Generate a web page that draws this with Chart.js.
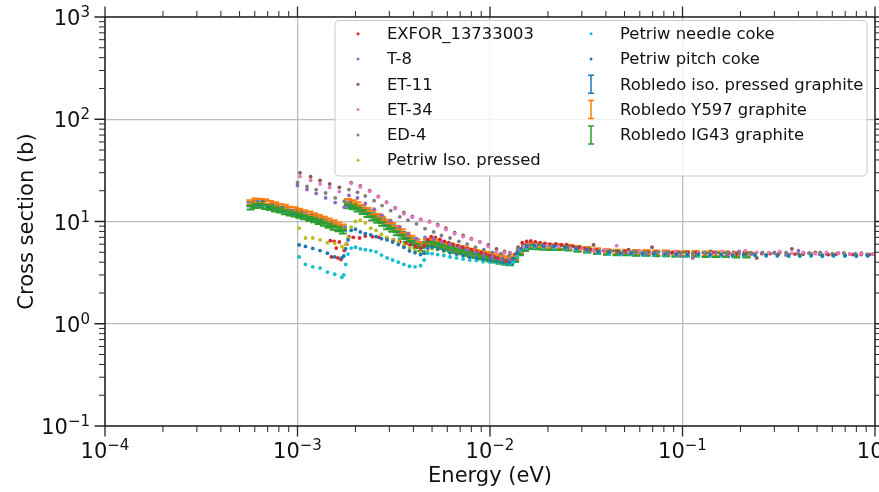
<!DOCTYPE html>
<html>
<head>
<meta charset="utf-8">
<title>Graphite total cross section</title>
<script src="https://cdn.jsdelivr.net/npm/chart.js@4.4.1/dist/chart.umd.min.js"></script>
<style>
  html, body { margin: 0; padding: 0; background: #fff; }
  canvas { display: block; }
</style>
</head>
<body>
<canvas id="xsChart" width="879" height="492"></canvas>
<script>
// ---- energy grids (eV) ----
// T-8 and ED-4
const gridA = [
  1.0e-3, 1.12e-3, 1.25e-3, 1.4e-3, 1.57e-3, 1.75e-3,
  1.85e-3, 2.05e-3, 2.25e-3, 2.5e-3, 2.75e-3, 3.05e-3, 3.4e-3, 3.75e-3, 4.15e-3, 4.6e-3,
  5.1e-3, 5.6e-3, 6.2e-3, 6.9e-3, 7.6e-3, 8.4e-3, 9.3e-3, 1.03e-2, 1.14e-2, 1.26e-2,
  1.4e-2, 1.6e-2, 1.85e-2, 2.1e-2, 2.45e-2, 2.8e-2, 3.2e-2, 3.7e-2, 4.25e-2, 4.9e-2,
  5.6e-2, 6.5e-2, 7.4e-2, 8.5e-2, 9.8e-2, 0.113, 0.13, 0.149, 0.171, 0.197,
  0.227, 0.26, 0.3, 0.345, 0.4, 0.455, 0.52, 0.6, 0.69, 0.79, 0.91
];
// ET-11 and ET-34
const gridB = [
  1.03e-3, 1.17e-3, 1.31e-3, 1.47e-3, 1.65e-3,
  1.9e-3, 2.12e-3, 2.37e-3, 2.63e-3, 2.9e-3, 3.22e-3, 3.57e-3, 3.95e-3, 4.37e-3, 4.85e-3,
  5.35e-3, 5.9e-3, 6.55e-3, 7.25e-3, 8.0e-3, 8.85e-3, 9.8e-3, 1.08e-2, 1.19e-2, 1.27e-2,
  1.5e-2, 1.72e-2, 1.98e-2, 2.27e-2, 2.62e-2, 3.0e-2, 3.45e-2, 3.95e-2, 4.55e-2, 5.25e-2,
  6.0e-2, 6.95e-2, 8.0e-2, 9.2e-2, 0.105, 0.121, 0.14, 0.16, 0.184, 0.212,
  0.243, 0.28, 0.32, 0.37, 0.425, 0.49, 0.56, 0.645, 0.74, 0.85, 0.975
];
// Petriw samples
const gridPetriw = [
  1.02e-3, 1.1e-3, 1.2e-3, 1.31e-3, 1.43e-3, 1.56e-3, 1.7e-3,
  1.74e-3, 1.78e-3, 1.83e-3, 1.9e-3, 2.0e-3, 2.12e-3, 2.25e-3, 2.4e-3, 2.56e-3, 2.73e-3,
  2.92e-3, 3.12e-3, 3.34e-3, 3.57e-3, 3.82e-3, 4.08e-3, 4.36e-3, 4.55e-3, 4.75e-3, 5.0e-3,
  5.35e-3, 5.75e-3, 6.2e-3, 6.7e-3, 7.25e-3, 7.85e-3, 8.5e-3, 9.2e-3, 1.0e-2, 1.08e-2,
  1.17e-2, 1.26e-2, 1.32e-2, 1.38e-2,
  1.45e-2, 1.55e-2, 1.7e-2, 1.9e-2, 2.15e-2, 2.45e-2, 2.8e-2, 3.2e-2, 3.65e-2, 4.15e-2,
  4.75e-2, 5.4e-2, 6.2e-2, 7.1e-2, 8.1e-2, 9.3e-2, 0.106, 0.121, 0.139, 0.159,
  0.182, 0.208, 0.238, 0.272, 0.311, 0.356, 0.407, 0.466, 0.533, 0.61, 0.698, 0.8, 0.915
];
// Robledo transmission runs
const gridRobledo = [
  5.7e-4, 6.05e-4, 6.4e-4, 6.8e-4, 7.2e-4, 7.65e-4, 8.1e-4, 8.6e-4, 9.1e-4, 9.65e-4,
  1.02e-3, 1.08e-3, 1.15e-3, 1.22e-3, 1.29e-3, 1.37e-3, 1.45e-3, 1.54e-3, 1.63e-3, 1.72e-3,
  1.83e-3, 1.94e-3, 2.05e-3, 2.18e-3, 2.31e-3, 2.45e-3, 2.6e-3, 2.75e-3, 2.92e-3, 3.1e-3,
  3.28e-3, 3.48e-3, 3.69e-3, 3.91e-3, 4.15e-3, 4.4e-3,
  4.7e-3, 4.98e-3, 5.28e-3, 5.6e-3, 5.94e-3, 6.3e-3, 6.68e-3, 7.08e-3, 7.5e-3, 7.95e-3,
  8.43e-3, 8.94e-3, 9.48e-3, 1.005e-2, 1.065e-2, 1.13e-2, 1.2e-2, 1.27e-2,
  1.35e-2, 1.43e-2, 1.52e-2, 1.62e-2, 1.75e-2, 1.9e-2, 2.08e-2, 2.3e-2, 2.55e-2, 2.85e-2,
  3.2e-2, 3.6e-2, 4.05e-2, 4.55e-2, 5.1e-2, 5.75e-2, 6.5e-2, 7.3e-2, 8.2e-2, 9.2e-2,
  0.104, 0.117, 0.132, 0.149, 0.168, 0.19, 0.215
];
const exforE = [
  1.48e-3, 1.5e-3, 1.55e-3, 1.59e-3, 1.62e-3, 1.65e-3, 1.68e-3, 1.75e-3,
  1.8e-3, 1.85e-3, 1.95e-3, 2.1e-3, 2.25e-3, 2.45e-3, 2.65e-3, 2.9e-3, 3.15e-3, 3.4e-3,
  3.65e-3, 3.85e-3, 4.1e-3, 4.35e-3, 4.55e-3, 4.75e-3, 4.95e-3, 5.2e-3, 5.5e-3, 5.8e-3,
  6.1e-3, 6.4e-3, 6.8e-3, 7.2e-3, 7.6e-3, 8.0e-3, 8.5e-3, 9.0e-3, 9.5e-3, 1.0e-2,
  1.05e-2, 1.1e-2, 1.15e-2, 1.2e-2, 1.25e-2, 1.3e-2, 1.35e-2, 1.4e-2, 1.47e-2, 1.55e-2,
  1.63e-2, 1.72e-2, 1.82e-2, 1.93e-2, 2.05e-2, 2.2e-2, 2.35e-2, 2.5e-2, 2.7e-2, 2.9e-2,
  3.1e-2, 3.35e-2, 3.6e-2, 3.9e-2, 4.2e-2, 4.6e-2, 5.0e-2, 5.5e-2, 6.0e-2, 6.6e-2,
  7.3e-2, 8.0e-2, 8.8e-2, 9.7e-2, 0.107, 0.118, 0.13, 0.143, 0.158, 0.174,
  0.192, 0.212, 0.234, 0.258, 0.285, 0.315, 0.348, 0.384, 0.424, 0.468,
  0.517, 0.571, 0.63, 0.696, 0.768, 0.848, 0.936
];

// ---- cross sections (b) ----
const exforXs = [
  6.5, 4.5, 6.4, 5.5, 4.4, 6.3, 4.25, 5.2,
  6.0, 7.1, 7.0, 6.9, 7.2, 7.1, 7.0, 6.9, 6.6, 6.3,
  6.1, 5.9, 5.7, 5.5, 5.8, 6.6, 7.1, 7.0, 6.7, 6.4,
  6.2, 6.0, 5.8, 5.6, 5.45, 5.3, 5.1, 4.95, 4.8, 4.65,
  4.5, 4.35, 4.2, 4.1, 4.0, 4.2, 4.8, 5.6, 6.2, 6.4,
  6.45, 6.3, 6.2, 6.1, 6.0, 6.05, 5.9, 5.95, 5.75, 5.6,
  5.4, 5.3, 5.25, 5.2, 5.15, 5.1, 5.1, 5.05, 5.1, 5.0,
  5.05, 5.0, 4.95, 5.0, 4.95, 4.95, 4.9, 4.95, 4.9, 4.9,
  4.85, 4.9, 4.85, 4.85, 4.85, 4.8, 4.85, 4.8, 4.8, 4.8,
  4.8, 4.75, 4.8, 4.75, 4.75, 4.75, 4.75
];
const t8Xs = [
  22.5, 20.5, 18.8, 17.0, 15.3, 13.8,
  18.0, 17.0, 15.0, 13.2, 11.5, 10.2, 8.8, 7.6, 6.8, 7.0,
  6.8, 6.3, 6.0, 5.6, 5.3, 5.0, 4.7, 4.5, 4.3, 4.2,
  5.3, 5.8, 5.9, 5.7, 5.6, 5.4, 5.2, 5.0, 5.1, 4.9,
  5.0, 4.8, 5.0, 4.9, 4.6, 4.4, 4.9, 5.0, 4.7, 5.1,
  4.8, 4.9, 5.0, 4.7, 5.2, 4.9, 4.8, 4.7, 4.9, 4.8, 4.75
];
const et11Xs = [
  29.9, 27.4, 25.3, 23.3, 21.6,
  24.0, 22.3, 20.0, 17.6, 15.5, 13.6, 12.2, 11.2, 10.5, 10.0,
  9.3, 8.6, 7.8, 7.3, 6.8, 6.3, 5.9, 5.4, 5.1, 4.95,
  5.9, 6.0, 5.9, 5.8, 5.6, 5.5, 5.9, 5.2, 5.1, 5.3,
  5.0, 5.6, 5.0, 4.9, 5.0, 4.95, 5.1, 4.9, 5.0, 5.1,
  4.4, 4.9, 5.0, 5.4, 4.9, 5.0, 4.85, 4.9, 4.8, 4.9, 4.8
];
const et34Xs = [
  27.5, 25.2, 23.3, 21.5, 19.6,
  23.6, 21.8, 19.8, 17.4, 15.3, 13.4, 11.9, 11.0, 10.4, 9.9,
  9.1, 8.35, 7.6, 7.1, 6.7, 6.3, 5.7, 5.1, 4.95, 4.9,
  5.7, 5.9, 5.85, 5.7, 5.5, 5.4, 5.2, 5.3, 5.8, 5.0,
  5.1, 4.9, 5.0, 5.1, 4.8, 5.0, 4.9, 5.1, 4.85, 5.2,
  5.0, 4.9, 5.1, 4.9, 5.0, 4.85, 5.0, 4.9, 4.8, 4.85, 4.8
];
const ed4Xs = [
  24.0, 22.0, 20.5, 19.0, 17.0, 15.8,
  20.5, 19.3, 17.8, 16.0, 14.3, 12.8, 11.1, 10.3, 9.5, 8.5,
  7.9, 7.3, 6.9, 6.4, 6.0, 5.6, 5.3, 5.0, 4.85, 4.7,
  5.5, 5.9, 5.95, 5.8, 5.7, 5.5, 5.3, 5.15, 5.2, 5.0,
  5.1, 5.0, 4.95, 5.05, 4.9, 4.85, 5.0, 4.9, 5.0, 4.85,
  4.95, 5.0, 4.9, 4.95, 4.85, 4.9, 5.0, 4.85, 4.9, 4.85, 4.8
];
const petriwIsoXs = [
  8.6, 6.9, 6.9, 6.6, 6.2, 6.1, 5.7,
  5.5, 6.0, 7.0, 8.8, 10.0, 10.3, 9.7, 8.6, 8.2, 7.5,
  7.0, 6.6, 6.3, 5.9, 5.5, 5.25, 5.0, 4.9, 5.2, 5.4,
  5.3, 5.15, 5.0, 4.85, 4.7, 4.55, 4.45, 4.3, 4.2, 4.1,
  4.0, 3.9, 4.1, 4.6,
  5.3, 5.6, 5.7, 5.65, 5.6, 5.55, 5.4, 5.2, 5.0, 4.95,
  4.9, 4.9, 4.85, 4.85, 4.8, 4.8, 4.75, 4.8, 4.75, 4.8,
  4.75, 4.75, 4.8, 4.75, 4.7, 4.75, 4.7, 4.75, 4.7, 4.7, 4.75, 4.7, 4.7
];
const petriwNeedleXs = [
  4.5, 3.8, 3.6, 3.5, 3.2, 3.05, 2.85,
  3.0, 3.8, 4.8, 5.5, 5.6, 5.4, 5.3, 5.2, 5.05, 4.7,
  4.4, 4.2, 4.0, 3.8, 3.65, 3.6, 3.7, 4.2, 4.9, 4.85,
  4.75, 4.65, 4.5, 4.4, 4.3, 4.2, 4.15, 4.05, 4.0, 3.95,
  3.85, 3.8, 4.0, 4.6,
  5.2, 5.5, 5.6, 5.55, 5.5, 5.45, 5.3, 5.1, 4.9, 4.8,
  4.75, 4.75, 4.7, 4.7, 4.65, 4.7, 4.6, 4.65, 4.6, 4.65,
  4.6, 4.6, 4.65, 4.6, 4.6, 4.55, 4.6, 4.6, 4.55, 4.6, 4.6, 4.55, 4.6
];
const petriwPitchXs = [
  5.9, 5.7, 5.45, 5.2, 4.9, 4.5, 4.4,
  4.6, 5.4, 6.6, 8.2, 8.4, 7.9, 7.6, 7.4, 7.1, 6.8,
  6.6, 6.3, 5.95, 5.6, 5.15, 4.95, 4.75, 4.9, 5.5, 5.6,
  5.4, 5.2, 4.95, 4.8, 4.65, 4.5, 4.4, 4.3, 4.2, 4.1,
  4.0, 3.95, 4.3, 4.9,
  5.4, 5.7, 5.8, 5.75, 5.7, 5.6, 5.45, 5.25, 5.05, 5.0,
  4.9, 4.9, 4.85, 4.85, 4.8, 4.8, 4.75, 4.8, 4.75, 4.75,
  4.7, 4.75, 4.7, 4.7, 4.7, 4.7, 4.65, 4.7, 4.65, 4.7, 4.65, 4.65, 4.65
];
const robledoIsoXs = [
  14.8, 15.1, 14.9, 15.2, 14.2, 13.9, 13.3, 13.1, 12.5, 12.4,
  11.9, 11.7, 11.1, 10.9, 10.3, 10.1, 9.5, 9.3, 8.7, 8.5,
  14.9, 14.4, 13.9, 13.1, 12.3, 11.5, 10.8, 10.1, 9.4, 8.8,
  8.2, 7.6, 7.05, 6.55, 6.1, 5.75,
  6.1, 6.2, 6.0, 5.8, 5.6, 5.45, 5.3, 5.15, 5.0, 4.85,
  4.75, 4.6, 4.5, 4.4, 4.3, 4.2, 4.1, 4.0,
  4.3, 5.0, 5.5, 5.75, 5.7, 5.65, 5.6, 5.6, 5.55, 5.4,
  5.25, 5.1, 5.0, 4.95, 4.95, 4.9, 4.9, 4.85, 4.85, 4.8,
  4.8, 4.8, 4.75, 4.75, 4.75, 4.7, 4.7
];
const robledoY597Xs = [
  15.4, 16.0, 15.8, 15.7, 15.1, 14.7, 14.1, 13.9, 13.3, 13.1,
  12.7, 12.3, 11.9, 11.5, 11.0, 10.6, 10.2, 9.8, 9.3, 8.9,
  15.8, 15.4, 14.7, 13.8, 12.9, 12.1, 11.3, 10.6, 9.9, 9.2,
  8.6, 8.0, 7.4, 6.9, 6.4, 6.0,
  6.4, 6.5, 6.3, 6.1, 5.9, 5.75, 5.6, 5.45, 5.3, 5.15,
  5.0, 4.9, 4.8, 4.7, 4.55, 4.45, 4.35, 4.25,
  4.5, 5.2, 5.7, 5.9, 5.85, 5.8, 5.75, 5.7, 5.65, 5.5,
  5.35, 5.2, 5.1, 5.05, 5.05, 5.0, 5.0, 4.95, 4.95, 4.9,
  4.9, 4.9, 4.85, 4.85, 4.85, 4.8, 4.8
];
const robledoIG43Xs = [
  13.7, 14.2, 14.3, 13.9, 13.6, 13.1, 12.8, 12.3, 12.0, 11.7,
  11.4, 11.0, 10.6, 10.3, 9.9, 9.5, 9.1, 8.7, 8.4, 8.0,
  14.1, 13.8, 13.1, 12.4, 11.6, 10.8, 10.2, 9.5, 8.8, 8.3,
  7.7, 7.1, 6.65, 6.2, 5.75, 5.4,
  6.0, 6.05, 5.85, 5.65, 5.45, 5.3, 5.15, 5.0, 4.85, 4.7,
  4.6, 4.45, 4.35, 4.25, 4.15, 4.05, 3.95, 3.9,
  4.2, 4.9, 5.4, 5.65, 5.6, 5.55, 5.5, 5.5, 5.45, 5.3,
  5.2, 5.05, 4.95, 4.9, 4.9, 4.85, 4.85, 4.8, 4.8, 4.75,
  4.75, 4.75, 4.7, 4.7, 4.7, 4.65, 4.65
];
// relative uncertainty of each Robledo run
const robledoIsoErr = 0.045;
const robledoY597Err = 0.05;
const robledoIG43Err = 0.045;

// ---- axes ----
const xTickValues = [1e-4, 1e-3, 1e-2, 1e-1, 1];
const xTickExp = ['\u22124', '\u22123', '\u22122', '\u22121', '0'];
const yTickValues = [1e-1, 1, 10, 100, 1000];
const yTickExp = ['\u22121', '0', '1', '2', '3'];

const pts = (xs, ys) => xs.map((x, i) => ({ x: x, y: ys[i] }));

const markerSeries = [
  { label: 'EXFOR_13733003', color: '#d62728', data: pts(exforE, exforXs) },
  { label: 'T-8', color: '#9467bd', data: pts(gridA, t8Xs) },
  { label: 'ET-11', color: '#8c564b', data: pts(gridB, et11Xs) },
  { label: 'ET-34', color: '#e377c2', data: pts(gridB, et34Xs) },
  { label: 'ED-4', color: '#7f7f7f', data: pts(gridA, ed4Xs) },
  { label: 'Petriw Iso. pressed', color: '#bcbd22', data: pts(gridPetriw, petriwIsoXs) },
  { label: 'Petriw needle coke', color: '#17becf', data: pts(gridPetriw, petriwNeedleXs) },
  { label: 'Petriw pitch coke', color: '#1f77b4', data: pts(gridPetriw, petriwPitchXs) }
];
const errorSeries = [
  { label: 'Robledo iso. pressed graphite', color: '#1f77b4', err: robledoIsoErr, data: pts(gridRobledo, robledoIsoXs) },
  { label: 'Robledo Y597 graphite', color: '#ff7f0e', err: robledoY597Err, data: pts(gridRobledo, robledoY597Xs) },
  { label: 'Robledo IG43 graphite', color: '#2ca02c', err: robledoIG43Err, data: pts(gridRobledo, robledoIG43Xs) }
];

const FONT = '"DejaVu Sans", sans-serif';
const INK = '#111';
const SPINE = '#262626';

// error bars with caps, drawn underneath the marker series
const errorBarPlugin = {
  id: 'errorBars',
  beforeDatasetsDraw(chart) {
    const { ctx, chartArea: a, scales: { x, y } } = chart;
    ctx.save();
    ctx.beginPath();
    ctx.rect(a.left, a.top, a.right - a.left, a.bottom - a.top);
    ctx.clip();
    errorSeries.forEach(s => {
      ctx.strokeStyle = s.color;
      s.data.forEach(p => {
        const px = x.getPixelForValue(p.x);
        const lo = y.getPixelForValue(p.y * (1 - s.err));
        const hi = y.getPixelForValue(p.y * (1 + s.err));
        ctx.lineWidth = 1.6;
        ctx.beginPath();
        ctx.moveTo(px, lo); ctx.lineTo(px, hi);
        ctx.stroke();
        ctx.lineWidth = 2;
        ctx.beginPath();
        ctx.moveTo(px - 4, lo); ctx.lineTo(px + 4, lo);
        ctx.moveTo(px - 4, hi); ctx.lineTo(px + 4, hi);
        ctx.stroke();
      });
    });
    ctx.restore();
  }
};

// "10" with a raised exponent
function drawPower(ctx, exp, x, baseY, anchor) {
  ctx.font = '21px ' + FONT;
  const wBase = ctx.measureText('10').width;
  ctx.font = '15px ' + FONT;
  const wExp = ctx.measureText(exp).width;
  const w = wBase + wExp;
  const x0 = anchor === 'center' ? x - w / 2 : x - w;
  ctx.textAlign = 'left';
  ctx.textBaseline = 'alphabetic';
  ctx.font = '21px ' + FONT;
  ctx.fillText('10', x0, baseY);
  ctx.font = '15px ' + FONT;
  ctx.fillText(exp, x0 + wBase, baseY - 8);
}

// spines, ticks on all sides, tick labels, axis titles and the legend
const framePlugin = {
  id: 'frame',
  afterDraw(chart) {
    const { ctx, chartArea: a, scales: { x, y } } = chart;
    ctx.save();

    // ticks
    ctx.strokeStyle = SPINE;
    const tick = (px, py, dx, dy) => { ctx.moveTo(px, py); ctx.lineTo(px + dx, py + dy); };
    const majorLen = 10.5, minorLen = 6;
    ctx.lineWidth = 1.3;
    ctx.beginPath();
    xTickValues.forEach(v => {
      const px = x.getPixelForValue(v);
      tick(px, a.bottom, 0, majorLen); tick(px, a.top, 0, -majorLen);
    });
    yTickValues.forEach(v => {
      const py = y.getPixelForValue(v);
      tick(a.left, py, -majorLen, 0); tick(a.right, py, majorLen, 0);
    });
    ctx.stroke();
    ctx.lineWidth = 1;
    ctx.beginPath();
    for (let i = 0; i < xTickValues.length - 1; i++) {
      for (let m = 2; m < 10; m++) {
        const px = x.getPixelForValue(xTickValues[i] * m);
        tick(px, a.bottom, 0, minorLen); tick(px, a.top, 0, -minorLen);
      }
    }
    for (let i = 0; i < yTickValues.length - 1; i++) {
      for (let m = 2; m < 10; m++) {
        const py = y.getPixelForValue(yTickValues[i] * m);
        tick(a.left, py, -minorLen, 0); tick(a.right, py, minorLen, 0);
      }
    }
    ctx.stroke();

    // spines
    ctx.lineWidth = 1.5;
    ctx.strokeRect(a.left, a.top, a.right - a.left, a.bottom - a.top);

    // tick labels
    ctx.fillStyle = INK;
    xTickValues.forEach((v, i) => drawPower(ctx, xTickExp[i], x.getPixelForValue(v), a.bottom + 32, 'center'));
    yTickValues.forEach((v, i) => drawPower(ctx, yTickExp[i], a.left - 15, y.getPixelForValue(v) + 8, 'right'));

    // axis titles
    ctx.font = '21px ' + FONT;
    ctx.textAlign = 'center';
    ctx.textBaseline = 'alphabetic';
    ctx.fillText('Energy (eV)', (a.left + a.right) / 2, 482);
    ctx.save();
    ctx.translate(33, (a.top + a.bottom) / 2);
    ctx.rotate(-Math.PI / 2);
    ctx.fillText('Cross section (b)', 0, 0);
    ctx.restore();

    // legend
    const box = { x: 335, y: 20.5, w: 532, h: 155.5 };
    ctx.beginPath();
    ctx.roundRect(box.x, box.y, box.w, box.h, 4);
    ctx.fillStyle = 'rgba(255,255,255,0.8)';
    ctx.fill();
    ctx.strokeStyle = '#cccccc';
    ctx.lineWidth = 1;
    ctx.stroke();

    const entries = markerSeries.map(s => ({ label: s.label, color: s.color, kind: 'dot' }))
      .concat(errorSeries.map(s => ({ label: s.label, color: s.color, kind: 'bar' })));
    const rowH = 25.3, firstRow = 33.7, perCol = 6;
    const cols = [{ mark: 358, text: 387 }, { mark: 591, text: 620 }];
    ctx.font = '16.4px ' + FONT;
    ctx.textAlign = 'left';
    ctx.textBaseline = 'middle';
    entries.forEach((e, i) => {
      const c = cols[Math.floor(i / perCol)];
      const ry = firstRow + (i % perCol) * rowH;
      if (e.kind === 'dot') {
        ctx.fillStyle = e.color;
        ctx.beginPath();
        ctx.arc(c.mark, ry, 1.5, 0, Math.PI * 2);
        ctx.fill();
      } else {
        ctx.strokeStyle = e.color;
        ctx.lineWidth = 1.5;
        ctx.beginPath();
        ctx.moveTo(c.mark, ry - 9); ctx.lineTo(c.mark, ry + 9);
        ctx.moveTo(c.mark - 3, ry - 9); ctx.lineTo(c.mark + 3, ry - 9);
        ctx.moveTo(c.mark - 3, ry + 9); ctx.lineTo(c.mark + 3, ry + 9);
        ctx.stroke();
      }
      ctx.fillStyle = INK;
      ctx.fillText(e.label, c.text, ry + 1);
    });

    ctx.restore();
  }
};

const datasets = markerSeries.map((s, i) => ({
  label: s.label,
  data: s.data,
  backgroundColor: s.color,
  borderWidth: 0,
  pointRadius: 1.9,
  pointHoverRadius: 0,
  order: -i
}));

new Chart(document.getElementById('xsChart'), {
  type: 'scatter',
  data: { datasets: datasets },
  options: {
    responsive: false,
    animation: false,
    devicePixelRatio: 1,
    layout: { padding: { left: 105, top: 17, right: 4, bottom: 66 } },
    plugins: { legend: { display: false }, tooltip: { enabled: false } },
    scales: {
      x: {
        type: 'logarithmic', min: 1e-4, max: 1,
        afterFit: s => { s.height = 0; },
        afterBuildTicks: s => { s.ticks = xTickValues.map(v => ({ value: v })); },
        ticks: { display: false },
        border: { display: false },
        grid: { color: '#bdbdbd', lineWidth: 1.3, drawTicks: false }
      },
      y: {
        type: 'logarithmic', min: 0.1, max: 1000,
        afterFit: s => { s.width = 0; },
        afterBuildTicks: s => { s.ticks = yTickValues.map(v => ({ value: v })); },
        ticks: { display: false },
        border: { display: false },
        grid: { color: '#bdbdbd', lineWidth: 1.3, drawTicks: false }
      }
    }
  },
  plugins: [errorBarPlugin, framePlugin]
});
</script>
</body>
</html>
